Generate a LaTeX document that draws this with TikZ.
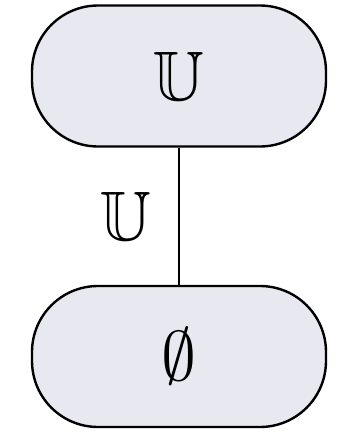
\documentclass[tikz,border=0pt]{standalone}
\usepackage{amssymb}
\usetikzlibrary{positioning}
\definecolor{fconj}{HTML}{E8E8F0}
\definecolor{sconj}{HTML}{000000}
\newcommand{\simbolo}[1]{\scalebox{7}{$#1$}}

\begin{document}
\begin{tikzpicture}[x=1pt,y=-1pt,line width=2.4pt,
  conj/.style={draw=sconj,fill=fconj,rounded corners=66pt,minimum width=294pt,minimum height=141pt,inner sep=0pt}]
\useasboundingbox (0,0) rectangle (343,434);
\node[conj] (topo) at (179,76) {\simbolo{\mathbb{U}}};
\node[conj] (vazio) at (179,356.5) {\simbolo{\emptyset}};
\draw[draw=sconj] (topo) -- (vazio);
\node (rotulo) at (126,216) {\simbolo{\mathbb{U}}};
\end{tikzpicture}
\end{document}
